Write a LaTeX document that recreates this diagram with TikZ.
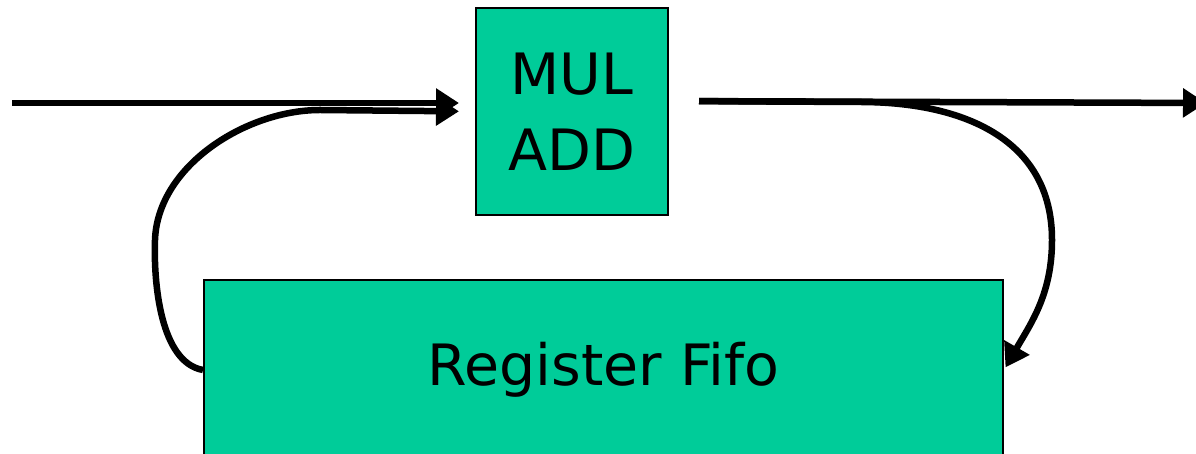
\documentclass[tikz,border=0pt]{standalone}
\usepackage{fontspec}
\setmainfont{DejaVu Sans}
\usepackage{tikz}
\usetikzlibrary{arrows.meta}

\definecolor{blockgreen}{RGB}{0,204,153}

\begin{document}
\begin{tikzpicture}[x=1pt,y=1pt,
  block/.style={draw=black,line width=2pt,fill=blockgreen,inner sep=0pt,
    font=\fontsize{57}{76}\selectfont,align=center},
  wire/.style={line width=6.5pt,-{Triangle[length=23pt,width=28pt]}}]
  \clip (0,0) rectangle (1196,454);
  \node[block,minimum width=192pt,minimum height=207pt] (mul) at (572,342.5) {MUL\\ADD};
  \node[block,minimum width=799pt,minimum height=180pt] (fifo) at (603.5,84) {Register Fifo};
  \coordinate (in) at (12,351);
  \coordinate (out) at (1206,351);
  % data path
  \draw[wire,shorten >=16pt] (in) -- (mul.west |- in);
  \draw[wire,shorten <=30pt] (mul.east |- 0,353) -- (out);
  % feedback through the fifo
  \draw[wire,shorten <=30pt,shorten >=3pt] (mul.east |- 0,353) -- (860,352)
    to[out=0,in=90,looseness=1.1] (1052,214) to[out=-90,in=60] (fifo.east);
  \draw[wire,shorten >=16pt] (fifo.west) to[out=170,in=-92,looseness=0.8] (155,214)
    to[out=88,in=180,looseness=0.9] (320,344) -- (mul.west);
\end{tikzpicture}
\end{document}
